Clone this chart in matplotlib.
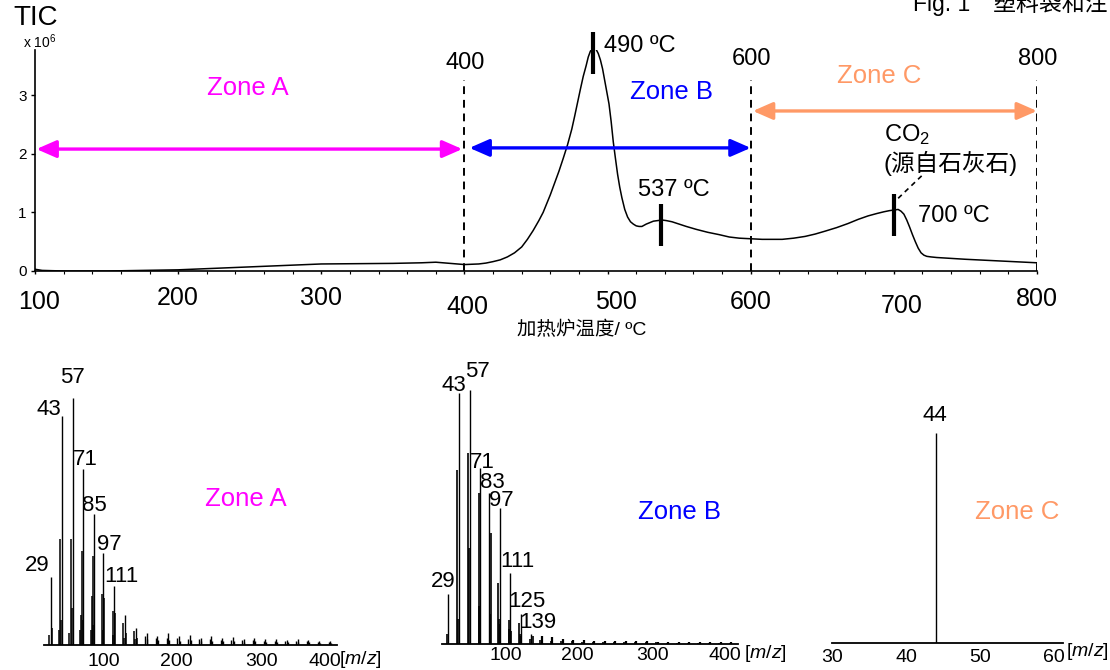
import matplotlib
matplotlib.use('Agg')
import matplotlib.pyplot as plt
from matplotlib.transforms import ScaledTranslation

plt.rcParams['font.family'] = ['Liberation Sans', 'Noto Sans CJK SC']
plt.rcParams['mathtext.fontset'] = 'custom'
plt.rcParams['mathtext.rm'] = 'Liberation Sans'
plt.rcParams['mathtext.it'] = 'Liberation Sans:italic'

W, H = 1110, 670

# TIC thermogram: furnace temperature (deg C) vs intensity (x 10^6)
temp = [100, 105, 120, 150, 200, 250, 300, 350, 370, 380, 390, 400, 410, 415,
        420, 425, 430, 435, 440, 444, 448, 452, 455, 457, 460, 463, 466, 469,
        472, 475, 477, 479, 481, 483, 485, 486.5, 488, 490, 492, 493.5, 495,
        496.5, 498, 499.5, 501, 502.5, 504, 505.5, 507, 508.5, 510, 512, 514,
        516, 518, 520, 522, 524, 527, 530, 532, 535, 538, 541, 545, 550, 555,
        562, 570, 578, 585, 592, 600, 608, 615, 622, 630, 638, 645, 652, 660,
        668, 675, 682, 688, 693, 697, 700, 703, 705, 707, 709, 711, 713, 715,
        717, 719, 721, 723, 726, 730, 750, 775, 800]
tic = [0.03, 0.01, 0.0, 0.0, 0.02, 0.07, 0.12, 0.13, 0.14, 0.15, 0.13, 0.11,
       0.12, 0.135, 0.16, 0.19, 0.24, 0.31, 0.41, 0.54, 0.69, 0.86, 1.0, 1.12,
       1.3, 1.5, 1.7, 1.92, 2.15, 2.42, 2.64, 2.87, 3.1, 3.32, 3.5, 3.65,
       3.75, 3.81, 3.78, 3.71, 3.6, 3.45, 3.25, 3.05, 2.85, 2.55, 2.2, 1.92,
       1.65, 1.43, 1.25, 1.05, 0.92, 0.84, 0.8, 0.77, 0.76, 0.76, 0.8, 0.83,
       0.85, 0.86, 0.87, 0.86, 0.84, 0.8, 0.76, 0.71, 0.66, 0.62, 0.58, 0.56,
       0.55, 0.54, 0.54, 0.54, 0.56, 0.59, 0.63, 0.68, 0.74, 0.81, 0.88, 0.94,
       0.98, 1.01, 1.03, 1.04, 1.05, 1.02, 0.97, 0.87, 0.75, 0.62, 0.5, 0.39,
       0.31, 0.27, 0.25, 0.24, 0.23, 0.2, 0.17, 0.14]

peak_temps = [490, 537, 700]
peak_tic = [3.81, 0.87, 1.05]
peak_labels = ['490 ºC', '537 ºC', '700 ºC']
zone_bounds = [100, 400, 600, 800]

# mass spectra (relative intensity, base peak = 100)
a_main_mz = [29, 43, 57, 71, 85, 97, 111, 125, 139]
a_main_int = [27.7, 92.5, 100, 71.3, 53, 37.4, 24, 12.1, 6.7]
a_side_mz = [27, 30, 39, 41, 42, 53, 55, 56, 67, 68, 69, 70, 81, 82, 83, 84,
             95, 96, 98, 109, 110, 112, 123, 124, 126, 137, 138, 140]
a_side_int = [4, 6.7, 6, 43, 10, 5, 43, 15, 6, 12, 38, 10, 6, 20, 36, 8,
              20.5, 6, 18.9, 13.9, 4, 13.1, 8.8, 3, 5, 5.8, 2.5, 3]
a_tail_mz = [153, 167, 181, 195, 209, 223, 237, 251, 265, 279, 293, 307, 321,
             335, 349, 363, 377, 391]
a_tail_int = [5, 3.6, 4.7, 3.8, 4.0, 3.0, 3.6, 2.8, 3.2, 2.6, 3.0, 2.4, 2.6,
              2.2, 2.4, 2.0, 1.8, 1.6]
a_tail_lo = [3.5, 3.0, 3.0, 2.8, 2.6, 2.4, 2.4, 2.2, 2.2, 2.0, 2.0, 1.8, 1.8,
             1.6, 1.6, 1.5, 1.4, 1.3]
a_tail_hi = [2.4, 2.0, 2.2, 1.8, 1.9, 1.6, 1.8, 1.5, 1.6, 1.4, 1.5, 1.3, 1.4,
             1.2, 1.3, 1.1, 1.0, 1.0]

b_main_mz = [29, 43, 57, 71, 83, 97, 111, 125, 139]
b_main_int = [19.7, 98.8, 100, 69.3, 59.4, 53.5, 28, 12, 4.1]
b_side_mz = [27, 41, 42, 55, 56, 69, 70, 84, 85, 95, 96, 98, 109, 110, 112,
             123, 124, 126, 137, 141]
b_side_int = [4, 68.6, 10, 75.2, 37.8, 59.4, 15, 12, 43.7, 24, 10, 8, 9.6, 6,
              5, 8.3, 4, 3, 2, 3]
b_tail_mz = [153, 167, 181, 195, 209, 223, 237, 251, 265, 279, 293, 307, 321,
             335, 349, 363, 377, 391, 405]
b_tail_int = [3.0, 2.6, 2.0, 1.7, 1.5, 1.3, 1.3, 1.1, 1.1, 1.0, 1.0, 0.9, 0.9,
              0.9, 0.8, 0.8, 0.8, 0.7, 0.7]
b_tail_lo = [1.5, 1.3, 1.1, 1.0, 0.9, 0.8, 0.8, 0.7, 0.7, 0.6, 0.6, 0.6, 0.5,
             0.5, 0.5, 0.5, 0.5, 0.4, 0.4]

c_mz = [44]
c_int = [100]

MAGENTA = '#FF00FF'
BLUE = '#0000FF'
ORANGE = '#FF9966'


def fx(px):
    return px / W


def fy(py):
    return 1 - py / H


def px_axes(left, top, right, bottom):
    return fig.add_axes([fx(left), fy(bottom), (right - left) / W, (bottom - top) / H])


def nudge_labels(labels, nudges):
    # shift tick labels by (dx, dy) pixels, dy downwards
    for lab, (dx, dy) in zip(labels, nudges):
        lab.set_transform(lab.get_transform() +
                          ScaledTranslation(dx / 100, -dy / 100, fig.dpi_scale_trans))


fig = plt.figure(figsize=(W / 100, H / 100), dpi=100)

# ---------------- top: TIC vs temperature ----------------
ax = px_axes(35, 50, 1037, 271)
ax.plot(temp, tic, color='black', lw=1.1)
ax.set_xlim(100, 800)
ax.set_ylim(0, 3.77)
for s in ['top', 'right']:
    ax.spines[s].set_visible(False)
for s in ['left', 'bottom']:
    ax.spines[s].set_linewidth(1.2)
ax.set_xticks(range(100, 801, 100))
ax.set_xticks(range(100, 801, 20), minor=True)
ax.set_yticks([0, 1, 2, 3])
ax.tick_params(axis='x', which='major', length=2.5, width=1, labelsize=18, pad=8)
ax.tick_params(axis='x', which='minor', length=2, width=0.8)
ax.tick_params(axis='y', length=3, width=1, labelsize=11, pad=3)
nudge_labels(ax.get_xticklabels(),
             [(4, 4), (0, 0), (0, 0), (3, 9), (8, 4), (0, 4), (8, 8), (0, 1)])

# zone boundaries
for t, lab_y in zip(zone_bounds[1:], [3.54, 3.62, 3.62]):
    ax.plot([t, t], [0, 3.25], color='black', lw=1.4, ls=(0, (4, 3)))
    ax.text(t + 0.5, lab_y, str(t), fontsize=17, ha='center', va='center')

# zone arrows
arrow_kw = dict(arrowstyle='<|-|>,head_length=0.8,head_width=0.35', lw=2.4,
                shrinkA=0, shrinkB=0, mutation_scale=15)
ax.annotate('', xy=(101, 2.08), xytext=(398.5, 2.08),
            arrowprops=dict(color=MAGENTA, **arrow_kw))
ax.annotate('', xy=(403.5, 2.10), xytext=(600, 2.10),
            arrowprops=dict(color=BLUE, **arrow_kw))
ax.annotate('', xy=(601.5, 2.73), xytext=(800, 2.73),
            arrowprops=dict(color=ORANGE, **arrow_kw), annotation_clip=False)
ax.text(249, 3.12, 'Zone A', color=MAGENTA, fontsize=18.5, ha='center', va='center')
ax.text(545, 3.06, 'Zone B', color=BLUE, fontsize=18.5, ha='center', va='center')
ax.text(690, 3.33, 'Zone C', color=ORANGE, fontsize=18.5, ha='center', va='center')

# peak markers
for t, v in zip(peak_temps, peak_tic):
    ax.plot([t, t], [v - 0.45, v + 0.27], color='black', lw=3, clip_on=False,
            solid_capstyle='butt')
ax.text(497.4, 3.83, peak_labels[0], fontsize=17, ha='left', va='center')
ax.text(546, 1.39, peak_labels[1], fontsize=17, ha='center', va='center')
ax.text(716.6, 0.93, peak_labels[2], fontsize=17, ha='left', va='center')

ax.plot([703, 721], [1.24, 1.66], color='black', lw=1.2, ls=(0, (3, 2.5)))
ax.text(693, 2.33, 'CO$_2$', fontsize=17, ha='left', va='center')
ax.text(693, 1.84, '(源自石灰石)', fontsize=17, ha='left', va='center')

fig.text(fx(13), fy(18), 'TIC', fontsize=20, ha='left', va='center')
fig.text(fx(40), fy(42), 'x 10$^{6}$', fontsize=10, ha='center', va='center')
fig.text(fx(582), fy(330), '加热炉温度/ ºC', fontsize=14, ha='center', va='center')
fig.text(fx(913), fy(11), 'Fig. 1\u3000塑料袋和注', fontsize=16.5, ha='left',
         va='baseline')


# ---------------- bottom: mass spectra ----------------
def spectrum_axes(left, right, bottom, top, xlim, ylim, ticks, pad):
    sa = px_axes(left, top, right, bottom)
    sa.set_xlim(*xlim)
    sa.set_ylim(*ylim)
    for s in ['left', 'right', 'top']:
        sa.spines[s].set_visible(False)
    sa.spines['bottom'].set_linewidth(1.3)
    sa.set_yticks([])
    sa.set_xticks(ticks)
    sa.tick_params(axis='x', length=0, labelsize=14, pad=pad)
    sa.patch.set_alpha(0)
    return sa


def peak_labels_at(sa, mzs, heights, offsets):
    for mz, h, (dx, dy) in zip(mzs, heights, offsets):
        sa.annotate(str(mz), (mz, h), xytext=(dx, dy), textcoords='offset points',
                    fontsize=16, ha='center', va='center', annotation_clip=False)


axa = spectrum_axes(44, 337, 645, 370, (20, 400), (0, 111.3), [100, 200, 300, 400], 5.5)
nudge_labels(axa.get_xticklabels(), [(-2, 0), (-6, 0), (2, 0), (-12, 0)])
axa.vlines(a_tail_mz, 0, a_tail_int, color='black', lw=1.0)
axa.vlines([m - 2 for m in a_tail_mz], 0, a_tail_lo, color='black', lw=1.0)
axa.vlines([m + 1 for m in a_tail_mz], 0, a_tail_hi, color='black', lw=1.0)
axa.vlines(a_side_mz, 0, a_side_int, color='black', lw=1.1)
axa.vlines(a_main_mz, 0, a_main_int, color='black', lw=1.0)
peak_labels_at(axa, a_main_mz[:7], a_main_int[:7],
               [(-10, 8), (-9.6, 4.8), (-0.4, 14.4), (1.7, 6.5), (0.4, 6.1),
                (4.5, 5.9), (5, 6.8)])
fig.text(fx(246), fy(499), 'Zone A', color=MAGENTA, fontsize=18.5, ha='center', va='center')
fig.text(fx(339), fy(660), '[$m/z$]', fontsize=14, ha='left', va='center')

axb = spectrum_axes(441.7, 738, 644, 370, (20, 414), (0, 107.9), [100, 200, 300, 400], 2.2)
nudge_labels(axb.get_xticklabels(), [(4, 0), (0, 0), (0, 0), (-3, 0)])
axb.vlines(b_tail_mz, 0, b_tail_int, color='black', lw=1.6)
axb.vlines([m - 2 for m in b_tail_mz], 0, b_tail_lo, color='black', lw=1.2)
axb.vlines(b_side_mz, 0, b_side_int, color='black', lw=1.2)
axb.vlines(b_main_mz, 0, b_main_int, color='black', lw=1.0)
peak_labels_at(axb, b_main_mz, b_main_int,
               [(-4, 9.1), (-3.5, 5.6), (5.9, 13.7), (1.6, 3.8), (2.5, 7.4),
                (1.3, 5.3), (5.5, 8.4), (4.8, 8.9), (4.5, 7.7)])
fig.text(fx(679), fy(512), 'Zone B', color=BLUE, fontsize=18.5, ha='center', va='center')
fig.text(fx(744), fy(654), '[$m/z$]', fontsize=14, ha='left', va='center')

axc = spectrum_axes(832, 1063, 643, 370, (30.3, 61.2), (0, 130), [30, 40, 50, 60], 4)
axc.vlines(c_mz, 0, c_int, color='black', lw=1.0)
peak_labels_at(axc, c_mz, c_int, [(-0.7, 12.7)])
fig.text(fx(1017), fy(512), 'Zone C', color=ORANGE, fontsize=18.5, ha='center', va='center')
fig.text(fx(1066), fy(651), '[$m/z$]', fontsize=14, ha='left', va='center')

fig.savefig('out.png', dpi=100)
